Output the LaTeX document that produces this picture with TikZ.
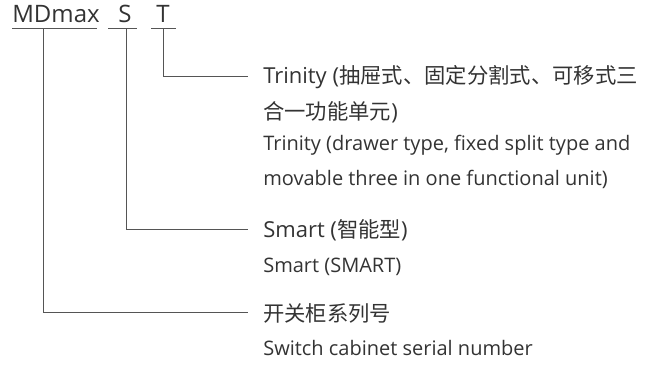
\documentclass[tikz,border=0pt]{standalone}
\usepackage{fontspec}
\setmainfont{Open Sans}
\newfontfamily\cjk{Noto Sans CJK SC}

\definecolor{textgray}{RGB}{51,51,51}
\definecolor{linegray}{RGB}{85,85,85}

\tikzset{
  code/.style={anchor=base, inner sep=0pt, text=textgray, font=\fontsize{18}{22}\selectfont},
  cnline/.style={anchor=base west, inner sep=0pt, text=textgray, font=\fontsize{16.5}{20}\selectfont},
  enline/.style={anchor=base west, inner sep=0pt, text=textgray, font=\fontsize{15}{18}\selectfont},
  leader/.style={draw=linegray, line width=0.75pt},
}

\begin{document}
\begin{tikzpicture}[x=0.75pt, y=-0.75pt]
        \useasboundingbox (0,0) rectangle (652,364);

        \node[code] (mdmax) at (56,22) {MDmax};
        \node[code] (s) at (125,22) {S};
        \node[code] (t) at (163,22) {T};

        \draw[leader] (12,28) -- (97,28);
        \draw[leader] (108,28) -- (137,28);
        \draw[leader] (151,28) -- (176,28);

        \coordinate (mdmaxfoot) at (43,28);
        \coordinate (sfoot) at (126,28);
        \coordinate (tfoot) at (163,28);

        \node[cnline] (trinitycn) at (263,83) {Trinity ({\cjk\fontsize{16}{20}\selectfont 抽屉式、固定分割式、可移式三}};
        \node[cnline] (trinitycn2) at (263,119) {{\cjk\fontsize{16}{20}\selectfont 合一功能单元})};
        \node[enline] (trinityen) at (263,150) {Trinity (drawer type, fixed split type and};
        \node[enline] (trinityen2) at (263,185) {movable three in one functional unit)};

        \node[cnline] (smartcn) at (263,237) {Smart ({\cjk\fontsize{16}{20}\selectfont 智能型})};
        \node[enline] (smarten) at (263,272) {Smart (SMART)};

        \node[cnline] (seriescn) at (263,321) {{\cjk\fontsize{16}{20}\selectfont 开关柜系列号}};
        \node[enline] (seriesen) at (263,355) {Switch cabinet serial number};

        \draw[leader] (tfoot) |- ([xshift=-11.25pt]trinitycn.west);
        \draw[leader] (sfoot) |- ([xshift=-11.25pt]smartcn.west);
        \draw[leader] (mdmaxfoot) |- ([xshift=-11.25pt]seriescn.west);
    \end{tikzpicture}
\end{document}
